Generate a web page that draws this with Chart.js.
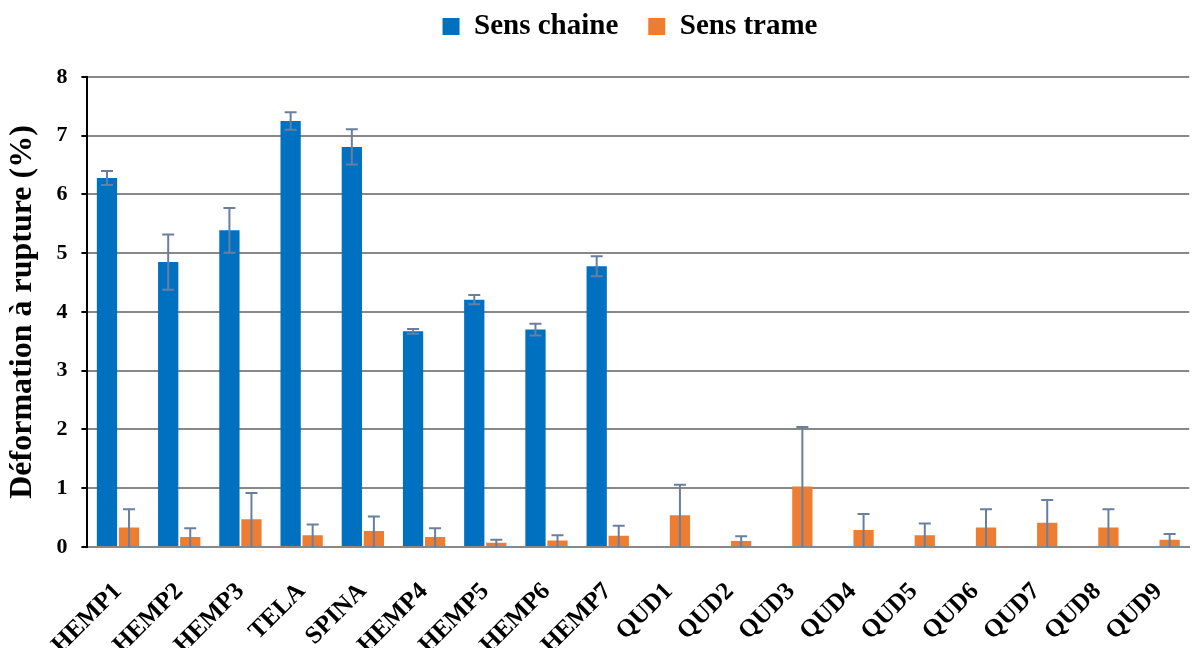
<!DOCTYPE html>
<html>
<head>
<meta charset="utf-8">
<script src="https://cdn.jsdelivr.net/npm/chart.js@4.4.1/dist/chart.umd.min.js"></script>
<style>
    html, body { margin: 0; padding: 0; background: #fff; overflow: hidden; }
    #wrap { width: 1210px; height: 690px; }
</style>
</head>
<body>
<div id="wrap"><canvas id="chart"></canvas></div>
<script>
// Chart data
const categories = ['HEMP1', 'HEMP2', 'HEMP3', 'TELA', 'SPINA', 'HEMP4', 'HEMP5', 'HEMP6', 'HEMP7',
    'QUD1', 'QUD2', 'QUD3', 'QUD4', 'QUD5', 'QUD6', 'QUD7', 'QUD8', 'QUD9'];
const chaineValues = [6.28, 4.85, 5.39, 7.25, 6.81, 3.67, 4.21, 3.70, 4.78,
    null, null, null, null, null, null, null, null, null];
const chaineErrors = [0.12, 0.47, 0.38, 0.15, 0.30, 0.04, 0.08, 0.10, 0.17,
    null, null, null, null, null, null, null, null, null];
const trameValues = [0.33, 0.17, 0.47, 0.20, 0.27, 0.17, 0.07, 0.11, 0.19,
    0.54, 0.10, 1.03, 0.29, 0.20, 0.33, 0.41, 0.33, 0.12];
const trameErrors = [0.31, 0.15, 0.45, 0.18, 0.25, 0.15, 0.05, 0.09, 0.17,
    0.52, 0.08, 1.01, 0.27, 0.20, 0.31, 0.39, 0.31, 0.10];
const yTicks = [0, 1, 2, 3, 4, 5, 6, 7, 8];

const FONT = '"Liberation Serif", "Times New Roman", serif';

// Error bars drawn from the y scale
const errorBarPlugin = {
    id: 'errorBars',
    afterDatasetsDraw(chart) {
        const ctx = chart.ctx;
        const yScale = chart.scales.y;
        ctx.save();
        ctx.strokeStyle = '#6a7fa0';
        ctx.lineWidth = 2;
        chart.data.datasets.forEach((ds, di) => {
            const meta = chart.getDatasetMeta(di);
            ds.errors.forEach((err, i) => {
                const v = ds.data[i];
                if (v == null || err == null) return;
                const x = meta.data[i].x;
                const yTop = yScale.getPixelForValue(v + err);
                const yBot = ds.bothSides ? yScale.getPixelForValue(v - err) : yScale.getPixelForValue(0);
                ctx.beginPath();
                ctx.moveTo(x, yBot);
                ctx.lineTo(x, yTop);
                ctx.moveTo(x - 6, yTop);
                ctx.lineTo(x + 6, yTop);
                if (ds.bothSides) {
                    ctx.moveTo(x - 6, yBot);
                    ctx.lineTo(x + 6, yBot);
                }
                ctx.stroke();
            });
        });
        ctx.restore();
    }
};

// Legend: wider item gap, fixed room below, nudged right/up
const legendTweak = {
    id: 'legendTweak',
    beforeInit(chart) {
        const legend = chart.legend;
        const fit = legend.fit;
        legend.fit = function () {
            fit.bind(legend)();
            this.height += 8;
        };
        const draw = legend.draw;
        legend.draw = function () {
            this.left += 26; this.right += 26; this.top -= 18;
            draw.bind(legend)();
            this.left -= 26; this.right -= 26; this.top += 18;
        };
    }
};

const ctx = document.getElementById('chart').getContext('2d');
new Chart(ctx, {
    type: 'bar',
    data: {
        labels: categories,
        datasets: [
            {
                label: 'Sens chaine',
                data: chaineValues,
                errors: chaineErrors,
                bothSides: true,
                backgroundColor: '#0070c0',
                categoryPercentage: 0.72,
                barPercentage: 0.92
            },
            {
                label: 'Sens trame',
                data: trameValues,
                errors: trameErrors,
                bothSides: false,
                backgroundColor: '#ed7d31',
                categoryPercentage: 0.72,
                barPercentage: 0.92
            }
        ]
    },
    options: {
        responsive: true,
        maintainAspectRatio: false,
        animation: false,
        layout: { padding: { top: 0, left: 4, right: 6, bottom: 0 } },
        plugins: {
            tooltip: { enabled: false },
            legend: {
                position: 'top',
                labels: {
                    boxWidth: 17,
                    boxHeight: 17,
                    padding: 30,
                    color: '#000',
                    font: { family: FONT, size: 29, weight: 'bold' }
                }
            }
        },
        scales: {
            x: {
                grid: { display: false, drawTicks: false },
                border: { display: true, color: '#888', width: 2 },
                ticks: {
                    color: '#000',
                    minRotation: 45,
                    maxRotation: 45,
                    padding: 30,
                    font: { family: FONT, size: 25, weight: 'bold' }
                }
            },
            y: {
                min: 0,
                max: 8,
                afterBuildTicks: axis => { axis.ticks = yTicks.map(v => ({ value: v })); },
                grid: {
                    color: '#888',
                    lineWidth: 2,
                    tickColor: '#000',
                    tickLength: 6
                },
                border: { display: true, color: '#000', width: 2 },
                ticks: {
                    color: '#000',
                    padding: 14,
                    font: { family: FONT, size: 22, weight: 'bold' }
                },
                title: {
                    display: true,
                    text: 'Déformation à rupture (%)',
                    color: '#000',
                    padding: { top: 0, bottom: 0 },
                    font: { family: FONT, size: 32, weight: 'bold' }
                }
            }
        }
    },
    plugins: [errorBarPlugin, legendTweak]
});
</script>
</body>
</html>
